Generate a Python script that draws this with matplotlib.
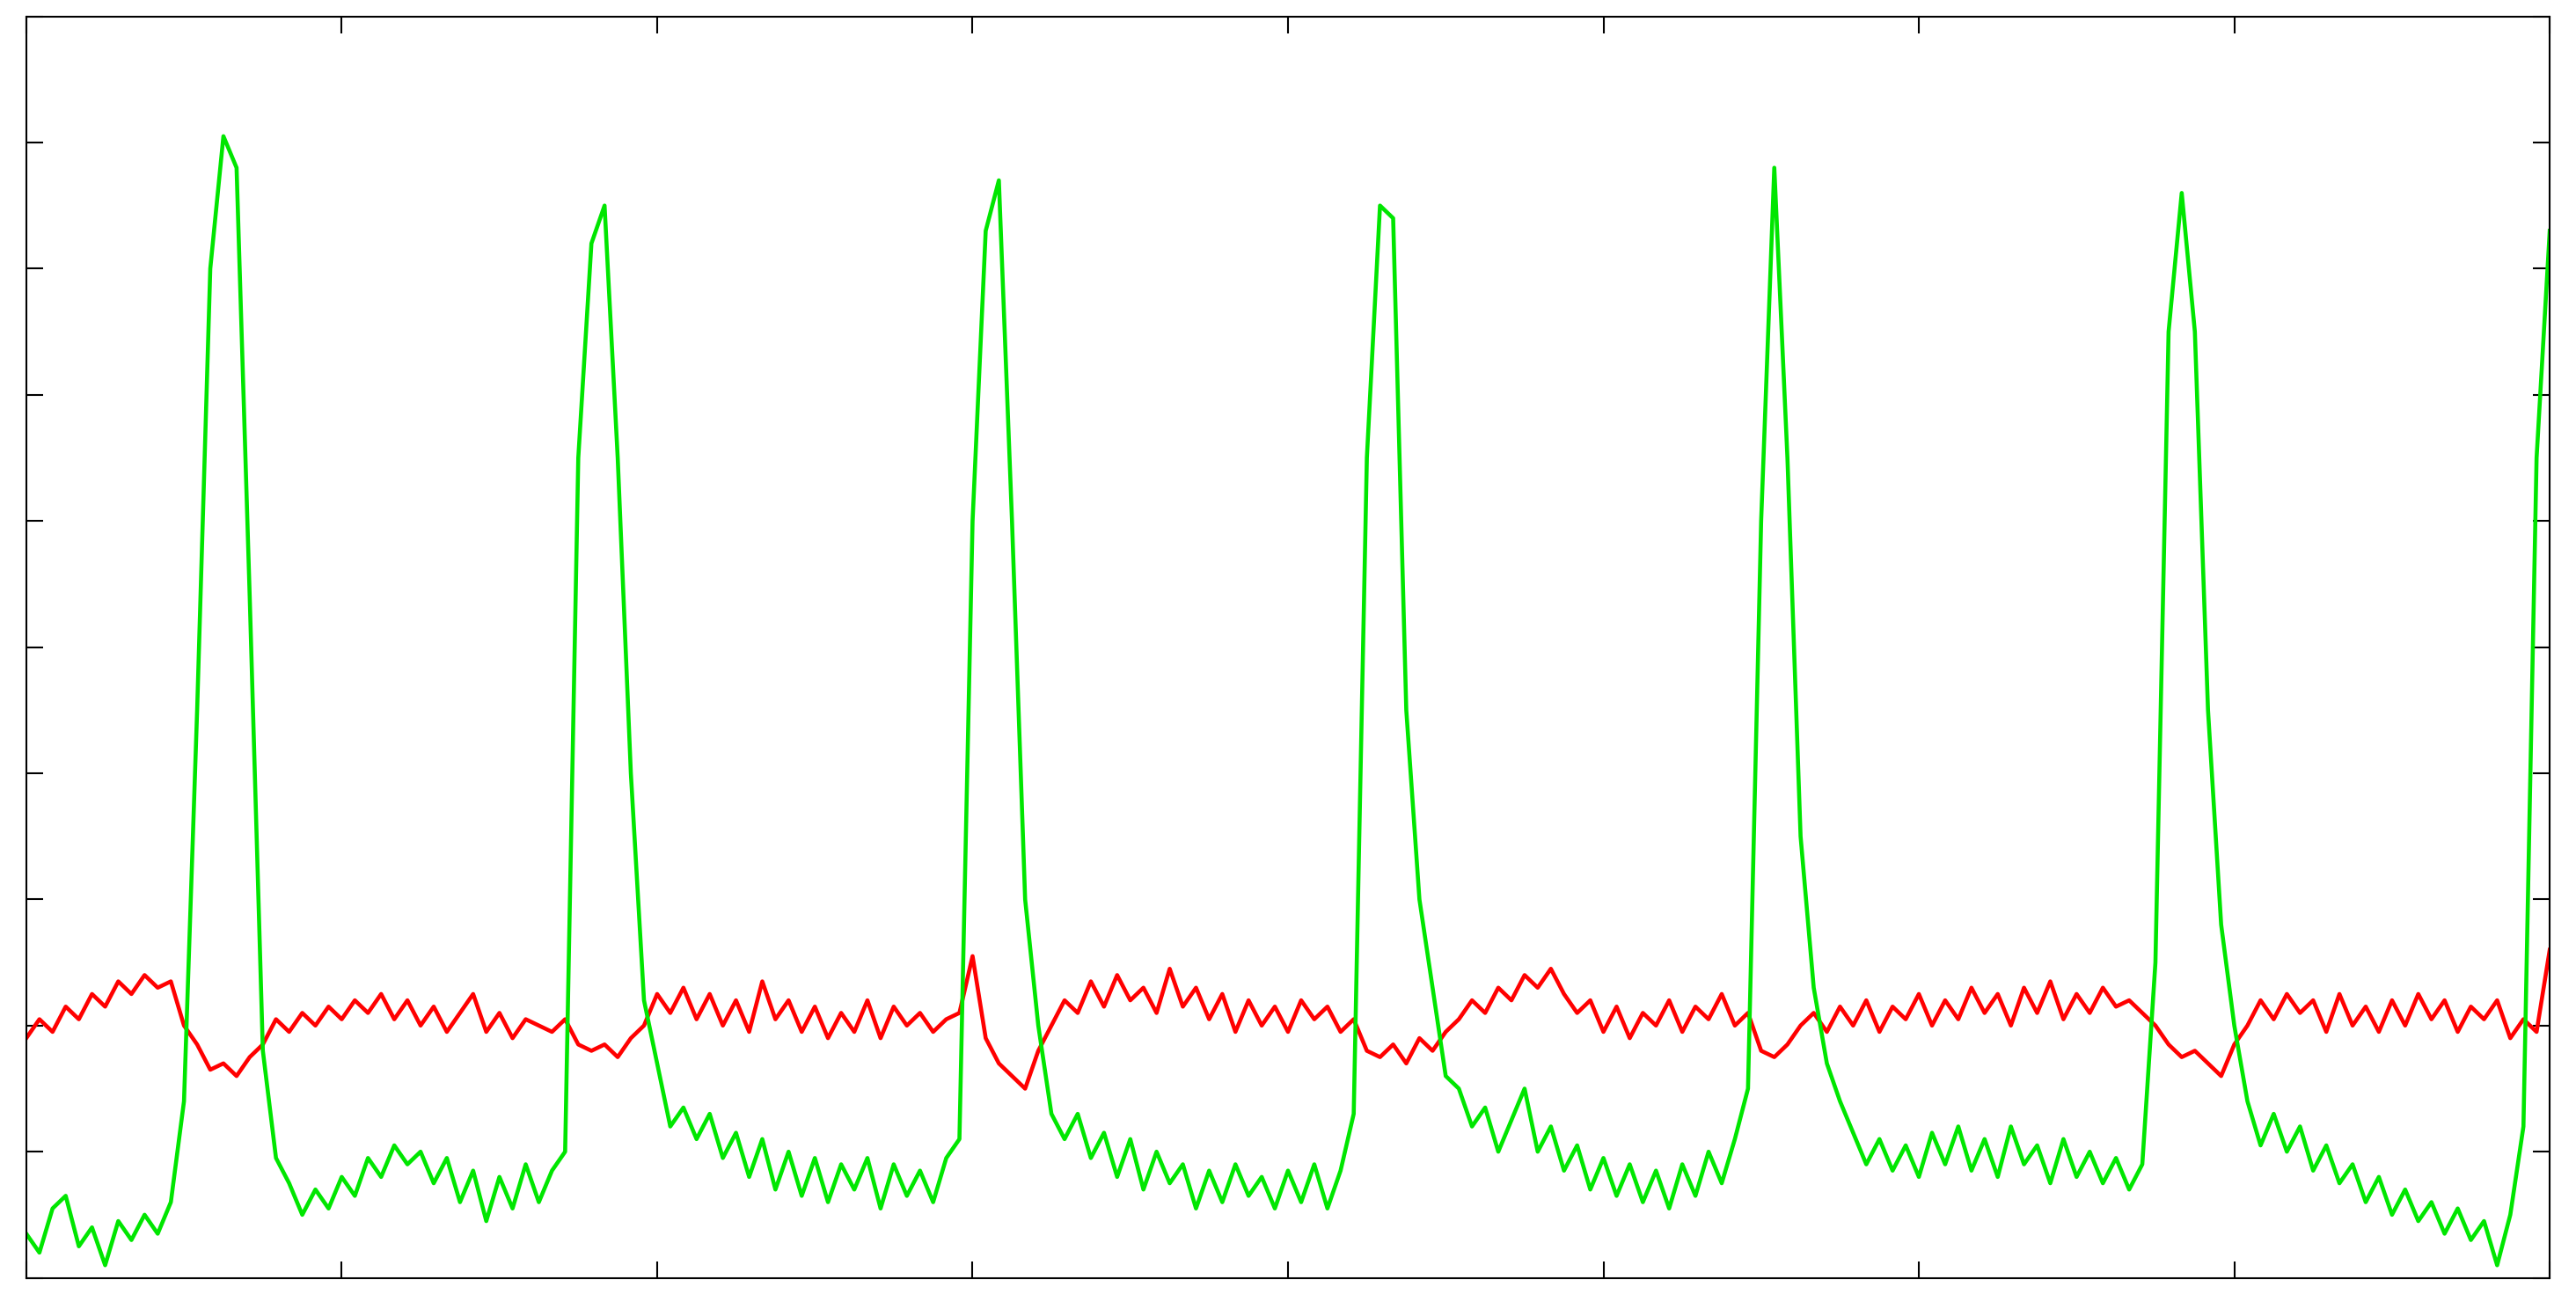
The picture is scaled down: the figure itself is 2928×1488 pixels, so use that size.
import numpy as np
import matplotlib
matplotlib.use("Agg")
import matplotlib.pyplot as plt

green = [0.35,0.2,0.55,0.65,0.25,0.4,0.1,0.45,0.3,0.5,0.35,0.6,1.4,4.5,8.0,9.05,8.8,5.4,1.8,0.95,
0.75,0.5,0.7,0.55,0.8,0.65,0.95,0.8,1.05,0.9,1.0,0.75,0.95,0.6,0.85,0.45,0.8,0.55,0.9,0.6,
0.85,1.0,6.5,8.2,8.5,6.5,4.0,2.2,1.7,1.2,1.35,1.1,1.3,0.95,1.15,0.8,1.1,0.7,1.0,0.65,
0.95,0.6,0.9,0.7,0.95,0.55,0.9,0.65,0.85,0.6,0.95,1.1,6.0,8.3,8.7,6.0,3.0,2.0,1.3,1.1,
1.3,0.95,1.15,0.8,1.1,0.7,1.0,0.75,0.9,0.55,0.85,0.6,0.9,0.65,0.8,0.55,0.85,0.6,0.9,0.55,
0.85,1.3,6.5,8.5,8.4,4.5,3.0,2.3,1.6,1.5,1.2,1.35,1.0,1.25,1.5,1.0,1.2,0.85,1.05,0.7,
0.95,0.65,0.9,0.6,0.85,0.55,0.9,0.65,1.0,0.75,1.1,1.5,6.0,8.8,6.5,3.5,2.3,1.7,1.4,1.15,
0.9,1.1,0.85,1.05,0.8,1.15,0.9,1.2,0.85,1.1,0.8,1.2,0.9,1.05,0.75,1.1,0.8,1.0,0.75,0.95,
0.7,0.9,2.5,7.5,8.6,7.5,4.5,2.8,2.0,1.4,1.05,1.3,1.0,1.2,0.85,1.05,0.75,0.9,0.6,0.8,
0.5,0.7,0.45,0.6,0.35,0.55,0.3,0.45,0.1,0.5,1.2,6.5,8.3]

red = [1.9,2.05,1.95,2.15,2.05,2.25,2.15,2.35,2.25,2.4,2.3,2.35,2.0,1.85,1.65,1.7,1.6,1.75,1.85,2.05,
1.95,2.1,2.0,2.15,2.05,2.2,2.1,2.25,2.05,2.2,2.0,2.15,1.95,2.1,2.25,1.95,2.1,1.9,2.05,2.0,
1.95,2.05,1.85,1.8,1.85,1.75,1.9,2.0,2.25,2.1,2.3,2.05,2.25,2.0,2.2,1.95,2.35,2.05,2.2,1.95,
2.15,1.9,2.1,1.95,2.2,1.9,2.15,2.0,2.1,1.95,2.05,2.1,2.55,1.9,1.7,1.6,1.5,1.8,2.0,2.2,
2.1,2.35,2.15,2.4,2.2,2.3,2.1,2.45,2.15,2.3,2.05,2.25,1.95,2.2,2.0,2.15,1.95,2.2,2.05,2.15,
1.95,2.05,1.8,1.75,1.85,1.7,1.9,1.8,1.95,2.05,2.2,2.1,2.3,2.2,2.4,2.3,2.45,2.25,2.1,2.2,
1.95,2.15,1.9,2.1,2.0,2.2,1.95,2.15,2.05,2.25,2.0,2.1,1.8,1.75,1.85,2.0,2.1,1.95,2.15,2.0,
2.2,1.95,2.15,2.05,2.25,2.0,2.2,2.05,2.3,2.1,2.25,2.0,2.3,2.1,2.35,2.05,2.25,2.1,2.3,2.15,
2.2,2.1,2.0,1.85,1.75,1.8,1.7,1.6,1.85,2.0,2.2,2.05,2.25,2.1,2.2,1.95,2.25,2.0,2.15,1.95,
2.2,2.0,2.25,2.05,2.2,1.95,2.15,2.05,2.2,1.9,2.05,1.95,2.6]

fig = plt.figure(figsize=(29.28, 14.88), dpi=100)
ax = fig.add_axes([0.0102, 0.0238, 0.9796, 0.9637])
ax.plot(np.linspace(0, 8, len(red)), red, color="#ff0000", lw=3.3)
ax.plot(np.linspace(0, 8, len(green)), green, color="#00e600", lw=3.3)
ax.set_xlim(0, 8)
ax.set_ylim(0, 10)
ax.set_xticks(range(0, 9))
ax.set_yticks(range(0, 11))
ax.tick_params(direction="in", length=14, width=1.5, labelleft=False, labelbottom=False,
               top=True, right=True)
for s in ax.spines.values():
    s.set_linewidth(1.5)
fig.savefig("out.png")
